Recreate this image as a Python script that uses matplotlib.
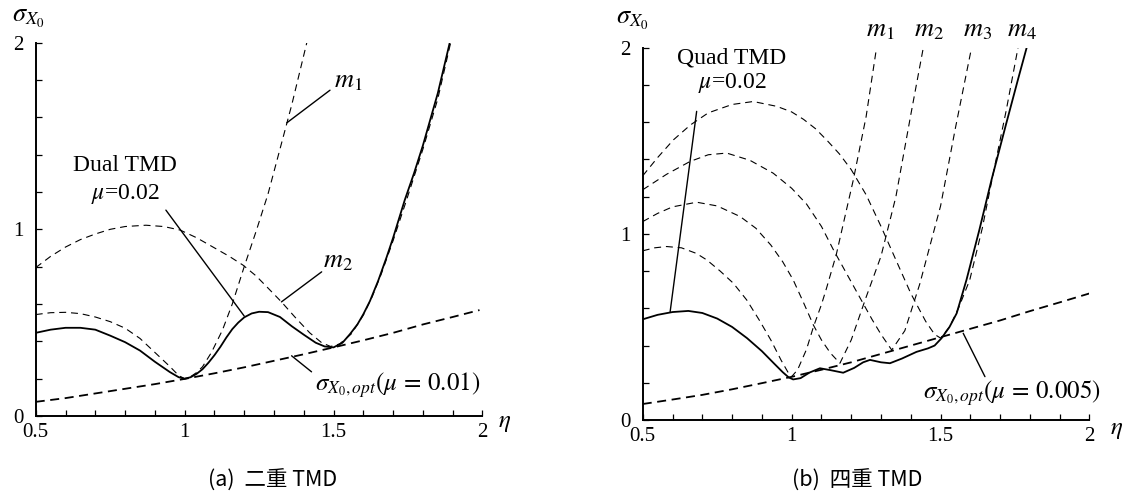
import matplotlib
matplotlib.use("Agg")
import matplotlib.pyplot as plt

plt.rcParams['font.family'] = ['Liberation Serif', 'DejaVu Serif']
plt.rcParams['mathtext.fontset'] = 'stix'
plt.rcParams['lines.scale_dashes'] = False

# ---- (a) dual TMD ----
eta_dual = [0.50, 0.55, 0.60, 0.65, 0.70, 0.75, 0.80, 0.85, 0.90, 0.95, 0.98, 1.00,
            1.02, 1.04, 1.06, 1.08, 1.10, 1.12, 1.14, 1.16, 1.18, 1.20, 1.225, 1.25,
            1.28, 1.32, 1.36, 1.40, 1.44, 1.47, 1.50, 1.53, 1.555, 1.58, 1.60, 1.622,
            1.65, 1.678, 1.70, 1.739, 1.77, 1.80, 1.85, 1.89]
sig_dual = [0.445, 0.462, 0.472, 0.472, 0.462, 0.43, 0.395, 0.35, 0.29, 0.235, 0.207, 0.199,
            0.207, 0.225, 0.25, 0.285, 0.325, 0.37, 0.42, 0.465, 0.50, 0.528, 0.549, 0.558,
            0.556, 0.53, 0.48, 0.435, 0.392, 0.372, 0.367, 0.392, 0.438, 0.49, 0.545, 0.615,
            0.725, 0.85, 0.955, 1.157, 1.3, 1.45, 1.73, 2.0]

eta_a_m1 = [0.50, 0.55, 0.60, 0.65, 0.70, 0.75, 0.80, 0.85, 0.90, 0.95, 0.98, 1.00,
            1.02, 1.04, 1.06, 1.09, 1.127, 1.16, 1.20, 1.24, 1.28, 1.32, 1.36, 1.41]
sig_a_m1 = [0.543, 0.553, 0.555, 0.548, 0.53, 0.505, 0.47, 0.415, 0.34, 0.265, 0.216, 0.199,
            0.21, 0.232, 0.263, 0.34, 0.46, 0.60, 0.80, 0.99, 1.19, 1.43, 1.67, 2.0]

eta_a_m2 = [0.50, 0.55, 0.60, 0.65, 0.70, 0.75, 0.80, 0.87, 0.93, 0.985, 1.04, 1.094,
            1.15, 1.196, 1.24, 1.28, 1.325, 1.37, 1.42, 1.46, 1.49, 1.52, 1.56, 1.60,
            1.63, 1.66, 1.70, 1.745, 1.80, 1.85, 1.893]
sig_a_m2 = [0.795, 0.855, 0.905, 0.945, 0.975, 1.0, 1.015, 1.022, 1.015, 0.996, 0.955, 0.906,
            0.855, 0.808, 0.75, 0.685, 0.611, 0.53, 0.445, 0.392, 0.372, 0.385, 0.44, 0.54,
            0.64, 0.76, 0.94, 1.157, 1.43, 1.70, 2.0]

eta_a_opt = [0.5, 0.6, 0.7, 0.8, 0.9, 1.0, 1.1, 1.2, 1.3, 1.4, 1.5, 1.6, 1.7, 1.8, 1.9, 1.99]
sig_a_opt = [0.075, 0.095, 0.12, 0.145, 0.17, 0.198, 0.228, 0.26, 0.295, 0.33, 0.367, 0.405,
             0.445, 0.49, 0.53, 0.567]

# ---- (b) quad TMD ----
eta_quad = [0.50, 0.55, 0.60, 0.653, 0.70, 0.75, 0.80, 0.85, 0.90, 0.94, 0.97, 0.99, 1.005,
            1.03, 1.06, 1.095, 1.13, 1.173, 1.21, 1.24, 1.263, 1.30, 1.33, 1.37, 1.419,
            1.458, 1.48, 1.503, 1.53, 1.554, 1.587, 1.63, 1.671, 1.72, 1.76, 1.789]
sig_quad = [0.541, 0.565, 0.58, 0.586, 0.575, 0.545, 0.50, 0.44, 0.37, 0.305, 0.257, 0.229, 0.218,
            0.225, 0.255, 0.278, 0.268, 0.254, 0.28, 0.31, 0.323, 0.31, 0.305, 0.33, 0.366,
            0.385, 0.40, 0.439, 0.50, 0.573, 0.753, 1.02, 1.29, 1.59, 1.83, 2.0]

eta_b_m1 = [0.50, 0.54, 0.58, 0.63, 0.68, 0.715, 0.76, 0.804, 0.849, 0.89, 0.93, 0.965, 0.99,
            1.00, 1.02, 1.05, 1.073, 1.10, 1.117, 1.15, 1.207, 1.25, 1.285]
sig_b_m1 = [0.909, 0.925, 0.932, 0.925, 0.895, 0.86, 0.80, 0.735, 0.645, 0.54, 0.43, 0.32, 0.25,
            0.233, 0.27, 0.38, 0.50, 0.62, 0.708, 0.89, 1.29, 1.63, 2.0]

eta_b_m2 = [0.50, 0.55, 0.60, 0.681, 0.75, 0.827, 0.88, 0.93, 0.97, 1.005, 1.04, 1.073, 1.10,
            1.13, 1.162, 1.20, 1.25, 1.30, 1.35, 1.40, 1.442]
sig_b_m2 = [1.066, 1.11, 1.145, 1.17, 1.15, 1.093, 1.03, 0.94, 0.85, 0.753, 0.63, 0.51, 0.43,
            0.36, 0.305, 0.43, 0.66, 0.88, 1.20, 1.64, 2.0]

eta_b_m3 = [0.50, 0.58, 0.659, 0.72, 0.782, 0.86, 0.938, 1.00, 1.05, 1.10, 1.14, 1.185, 1.23,
            1.27, 1.30, 1.336, 1.38, 1.43, 1.50, 1.55, 1.604]
sig_b_m3 = [1.237, 1.32, 1.389, 1.425, 1.434, 1.395, 1.326, 1.245, 1.16, 1.04, 0.915, 0.785, 0.655,
            0.54, 0.46, 0.376, 0.48, 0.73, 1.15, 1.57, 2.0]

eta_b_m4 = [0.50, 0.55, 0.603, 0.66, 0.72, 0.80, 0.871, 0.95, 1.00, 1.04, 1.08, 1.12, 1.16,
            1.20, 1.25, 1.30, 1.35, 1.40, 1.45, 1.48, 1.50, 1.53, 1.56, 1.598, 1.64, 1.677,
            1.72, 1.76]
sig_b_m4 = [1.312, 1.41, 1.505, 1.585, 1.65, 1.695, 1.711, 1.685, 1.655, 1.615, 1.565, 1.50, 1.43,
            1.345, 1.21, 1.04, 0.86, 0.68, 0.53, 0.46, 0.44, 0.50, 0.60, 0.753, 1.03, 1.326,
            1.66, 2.0]

eta_b_opt = [0.5, 0.6, 0.7, 0.8, 0.9, 1.0, 1.1, 1.2, 1.3, 1.4, 1.5, 1.6, 1.7, 1.8, 1.9, 2.0]
sig_b_opt = [0.086, 0.11, 0.135, 0.165, 0.198, 0.232, 0.27, 0.31, 0.355, 0.40, 0.445, 0.49,
             0.535, 0.585, 0.632, 0.68]

x_ticklabels = ['0.5', '1', '1.5', '2']
y_ticklabels = ['0', '1', '2']

thin = dict(color='black', lw=0.8, dashes=(5, 3.5))
thick_dash = dict(color='black', lw=1.3, dashes=(6.5, 4))
solid = dict(color='black', lw=1.3)
lead = dict(arrowstyle='-', lw=1.0, color='black', shrinkA=0, shrinkB=0)


def setup_axes(ax):
    ax.set_xlim(0.5, 2)
    ax.set_ylim(0, 2)
    for s in ['top', 'right']:
        ax.spines[s].set_visible(False)
    for s in ['left', 'bottom']:
        ax.spines[s].set_linewidth(1.4)
    ax.set_xticks([0.5 + 0.1 * i for i in range(16)], minor=True)
    ax.set_xticks([0.5, 1, 1.5, 2])
    ax.set_xticklabels(x_ticklabels)
    ax.set_yticks([0.2 * i for i in range(11)], minor=True)
    ax.set_yticks([0, 1, 2])
    ax.set_yticklabels(y_ticklabels)
    ax.tick_params(which='both', direction='in', length=4.5, width=0.9, labelsize=15)
    ax.tick_params(axis='x', pad=5)
    ax.tick_params(axis='y', pad=9)


fig = plt.figure(figsize=(11.31, 4.98), dpi=100)
ax1 = fig.add_axes([0.0316, 0.165, 0.395, 0.749])
ax2 = fig.add_axes([0.5683, 0.1566, 0.395, 0.7476])

# panel (a)
setup_axes(ax1)
ax1.plot(eta_a_opt, sig_a_opt, **thick_dash)
ax1.plot(eta_a_m1, sig_a_m1, **thin)
ax1.plot(eta_a_m2, sig_a_m2, **thin)
ax1.plot(eta_dual, sig_dual, **solid)

ax1.text(0.80, 1.343, 'Dual TMD', ha='center', va='center', fontsize=17)
ax1.text(0.80, 1.19, r'$\mu$=0.02', ha='center', va='center', fontsize=17)
ax1.annotate('', xy=(1.2, 0.535), xytext=(0.937, 1.103), arrowprops=lead)
ax1.text(1.548, 1.79, r'$m_1$', ha='center', va='center', fontsize=19)
ax1.annotate('', xy=(1.343, 1.571), xytext=(1.488, 1.746), arrowprops=lead)
ax1.text(1.514, 0.826, r'$m_2$', ha='center', va='center', fontsize=19)
ax1.annotate('', xy=(1.325, 0.611), xytext=(1.46, 0.772), arrowprops=lead)
ax1.text(1.437, 0.165, r'$\sigma_{X_0,opt}(\mu\,=\,0.01)$', ha='left', va='center', fontsize=18)
ax1.annotate('', xy=(1.359, 0.322), xytext=(1.426, 0.236), arrowprops=lead)

# panel (b)
setup_axes(ax2)
ax2.plot(eta_b_opt, sig_b_opt, **thick_dash)
ax2.plot(eta_b_m1, sig_b_m1, **thin)
ax2.plot(eta_b_m2, sig_b_m2, **thin)
ax2.plot(eta_b_m3, sig_b_m3, **thin)
ax2.plot(eta_b_m4, sig_b_m4, **thin)
ax2.plot(eta_quad, sig_quad, **solid)

ax2.text(0.80, 1.946, 'Quad TMD', ha='center', va='center', fontsize=17)
ax2.text(0.80, 1.81, r'$\mu$=0.02', ha='center', va='center', fontsize=17)
ax2.annotate('', xy=(0.592, 0.582), xytext=(0.681, 1.658), arrowprops=lead)
for lab, xm in zip([r'$m_1$', r'$m_2$', r'$m_3$', r'$m_4$'], [1.297, 1.461, 1.625, 1.773]):
    ax2.text(xm, 2.088, lab, ha='center', va='center', fontsize=19, clip_on=False)
ax2.text(1.441, 0.145, r'$\sigma_{X_0,opt}(\mu\,=\,0.005)$', ha='left', va='center', fontsize=18)
ax2.annotate('', xy=(1.576, 0.466), xytext=(1.649, 0.233), arrowprops=lead)

# axis titles
fig.text(0.025, 0.962, r'$\sigma_{X_0}$', ha='center', va='center', fontsize=19)
fig.text(0.559, 0.958, r'$\sigma_{X_0}$', ha='center', va='center', fontsize=19)
fig.text(0.4465, 0.150, r'$\eta$', ha='center', va='center', fontsize=18)
fig.text(0.9876, 0.137, r'$\eta$', ha='center', va='center', fontsize=18)

# captions
cap = ['Noto Sans CJK JP', 'DejaVu Sans']
fig.text(0.241, 0.034, '(a)  二重 TMD', ha='center', va='center', fontsize=15.5, family=cap)
fig.text(0.758, 0.034, '(b)  四重 TMD', ha='center', va='center', fontsize=15.5, family=cap)

fig.savefig('out.png', dpi=100)
